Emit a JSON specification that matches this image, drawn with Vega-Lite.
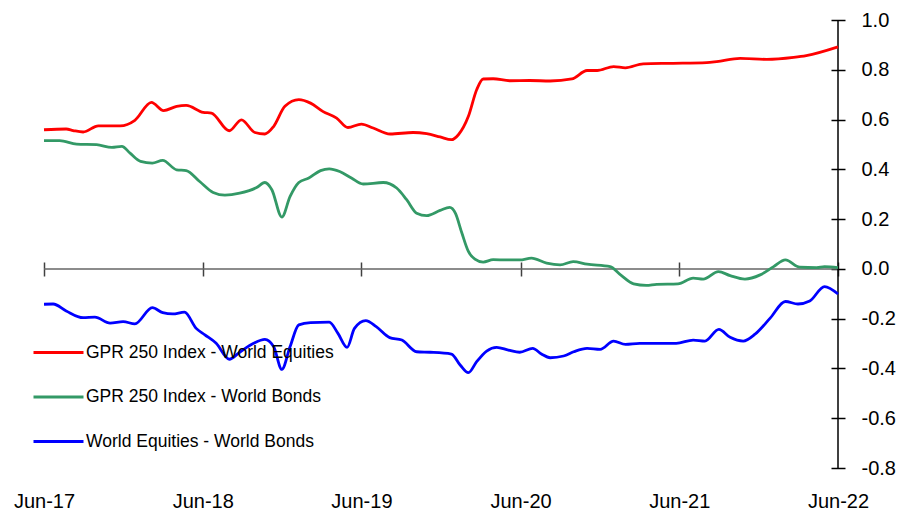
{
  "$schema": "https://vega.github.io/schema/vega-lite/v6.json",
  "autosize": "none",
  "width": 794,
  "height": 448,
  "padding": {"left": 44, "top": 20, "right": 66, "bottom": 44},
  "background": "white",
  "config": {"view": {"stroke": null}},
  "layer": [
    {
      "data": {"values": [{}]},
      "mark": {"type": "rule", "color": "#666666", "strokeWidth": 1.5},
      "encoding": {
        "x": {"datum": {"year": 2017, "month": 6, "date": 1, "utc": true}, "type": "temporal"},
        "x2": {"datum": {"year": 2022, "month": 6, "date": 1, "utc": true}},
        "y": {"datum": 0, "type": "quantitative"}
      }
    },
    {
      "data": {"values": [{}]},
      "mark": {"type": "rule", "color": "#000000", "strokeWidth": 1.5},
      "encoding": {
        "x": {"datum": {"year": 2022, "month": 6, "date": 1, "utc": true}, "type": "temporal"},
        "y": {"datum": -0.8, "type": "quantitative"},
        "y2": {"datum": 1.0}
      }
    },
    {
      "data": {"values": [
        {"date": "2017-06-01", "series": "GPR 250 Index - World Equities", "value": 0.559},
        {"date": "2017-07-22", "series": "GPR 250 Index - World Equities", "value": 0.562},
        {"date": "2017-08-07", "series": "GPR 250 Index - World Equities", "value": 0.556},
        {"date": "2017-08-30", "series": "GPR 250 Index - World Equities", "value": 0.55},
        {"date": "2017-10-04", "series": "GPR 250 Index - World Equities", "value": 0.575},
        {"date": "2017-11-23", "series": "GPR 250 Index - World Equities", "value": 0.575},
        {"date": "2017-12-27", "series": "GPR 250 Index - World Equities", "value": 0.597},
        {"date": "2018-02-03", "series": "GPR 250 Index - World Equities", "value": 0.669},
        {"date": "2018-03-03", "series": "GPR 250 Index - World Equities", "value": 0.636},
        {"date": "2018-04-02", "series": "GPR 250 Index - World Equities", "value": 0.653},
        {"date": "2018-04-24", "series": "GPR 250 Index - World Equities", "value": 0.657},
        {"date": "2018-06-02", "series": "GPR 250 Index - World Equities", "value": 0.629},
        {"date": "2018-06-21", "series": "GPR 250 Index - World Equities", "value": 0.626},
        {"date": "2018-08-01", "series": "GPR 250 Index - World Equities", "value": 0.555},
        {"date": "2018-08-29", "series": "GPR 250 Index - World Equities", "value": 0.599},
        {"date": "2018-09-29", "series": "GPR 250 Index - World Equities", "value": 0.548},
        {"date": "2018-10-22", "series": "GPR 250 Index - World Equities", "value": 0.542},
        {"date": "2018-11-11", "series": "GPR 250 Index - World Equities", "value": 0.572},
        {"date": "2018-12-07", "series": "GPR 250 Index - World Equities", "value": 0.653},
        {"date": "2019-01-08", "series": "GPR 250 Index - World Equities", "value": 0.68},
        {"date": "2019-02-04", "series": "GPR 250 Index - World Equities", "value": 0.666},
        {"date": "2019-03-04", "series": "GPR 250 Index - World Equities", "value": 0.633},
        {"date": "2019-04-05", "series": "GPR 250 Index - World Equities", "value": 0.606},
        {"date": "2019-05-01", "series": "GPR 250 Index - World Equities", "value": 0.568},
        {"date": "2019-06-01", "series": "GPR 250 Index - World Equities", "value": 0.582},
        {"date": "2019-06-28", "series": "GPR 250 Index - World Equities", "value": 0.566},
        {"date": "2019-08-06", "series": "GPR 250 Index - World Equities", "value": 0.542},
        {"date": "2019-09-28", "series": "GPR 250 Index - World Equities", "value": 0.548},
        {"date": "2019-10-29", "series": "GPR 250 Index - World Equities", "value": 0.543},
        {"date": "2019-11-29", "series": "GPR 250 Index - World Equities", "value": 0.53},
        {"date": "2019-12-25", "series": "GPR 250 Index - World Equities", "value": 0.519},
        {"date": "2020-01-10", "series": "GPR 250 Index - World Equities", "value": 0.539},
        {"date": "2020-02-02", "series": "GPR 250 Index - World Equities", "value": 0.613},
        {"date": "2020-02-21", "series": "GPR 250 Index - World Equities", "value": 0.72},
        {"date": "2020-03-07", "series": "GPR 250 Index - World Equities", "value": 0.763},
        {"date": "2020-03-30", "series": "GPR 250 Index - World Equities", "value": 0.764},
        {"date": "2020-05-07", "series": "GPR 250 Index - World Equities", "value": 0.756},
        {"date": "2020-06-22", "series": "GPR 250 Index - World Equities", "value": 0.757},
        {"date": "2020-08-08", "series": "GPR 250 Index - World Equities", "value": 0.755},
        {"date": "2020-09-27", "series": "GPR 250 Index - World Equities", "value": 0.763},
        {"date": "2020-11-01", "series": "GPR 250 Index - World Equities", "value": 0.797},
        {"date": "2020-11-24", "series": "GPR 250 Index - World Equities", "value": 0.797},
        {"date": "2021-01-01", "series": "GPR 250 Index - World Equities", "value": 0.813},
        {"date": "2021-01-28", "series": "GPR 250 Index - World Equities", "value": 0.808},
        {"date": "2021-03-10", "series": "GPR 250 Index - World Equities", "value": 0.824},
        {"date": "2021-05-18", "series": "GPR 250 Index - World Equities", "value": 0.826},
        {"date": "2021-08-03", "series": "GPR 250 Index - World Equities", "value": 0.829},
        {"date": "2021-08-26", "series": "GPR 250 Index - World Equities", "value": 0.833},
        {"date": "2021-10-19", "series": "GPR 250 Index - World Equities", "value": 0.846},
        {"date": "2021-12-19", "series": "GPR 250 Index - World Equities", "value": 0.842},
        {"date": "2022-02-19", "series": "GPR 250 Index - World Equities", "value": 0.85},
        {"date": "2022-03-20", "series": "GPR 250 Index - World Equities", "value": 0.857},
        {"date": "2022-06-01", "series": "GPR 250 Index - World Equities", "value": 0.892},

        {"date": "2017-06-01", "series": "GPR 250 Index - World Bonds", "value": 0.515},
        {"date": "2017-07-07", "series": "GPR 250 Index - World Bonds", "value": 0.515},
        {"date": "2017-08-15", "series": "GPR 250 Index - World Bonds", "value": 0.501},
        {"date": "2017-09-30", "series": "GPR 250 Index - World Bonds", "value": 0.499},
        {"date": "2017-11-04", "series": "GPR 250 Index - World Bonds", "value": 0.488},
        {"date": "2017-11-27", "series": "GPR 250 Index - World Bonds", "value": 0.492},
        {"date": "2017-12-16", "series": "GPR 250 Index - World Bonds", "value": 0.465},
        {"date": "2018-01-09", "series": "GPR 250 Index - World Bonds", "value": 0.432},
        {"date": "2018-02-05", "series": "GPR 250 Index - World Bonds", "value": 0.425},
        {"date": "2018-03-01", "series": "GPR 250 Index - World Bonds", "value": 0.436},
        {"date": "2018-04-02", "series": "GPR 250 Index - World Bonds", "value": 0.398},
        {"date": "2018-04-24", "series": "GPR 250 Index - World Bonds", "value": 0.395},
        {"date": "2018-05-25", "series": "GPR 250 Index - World Bonds", "value": 0.351},
        {"date": "2018-06-25", "series": "GPR 250 Index - World Bonds", "value": 0.307},
        {"date": "2018-07-22", "series": "GPR 250 Index - World Bonds", "value": 0.296},
        {"date": "2018-08-25", "series": "GPR 250 Index - World Bonds", "value": 0.304},
        {"date": "2018-10-03", "series": "GPR 250 Index - World Bonds", "value": 0.327},
        {"date": "2018-10-22", "series": "GPR 250 Index - World Bonds", "value": 0.347},
        {"date": "2018-11-07", "series": "GPR 250 Index - World Bonds", "value": 0.318},
        {"date": "2018-11-30", "series": "GPR 250 Index - World Bonds", "value": 0.208},
        {"date": "2018-12-19", "series": "GPR 250 Index - World Bonds", "value": 0.291},
        {"date": "2019-01-08", "series": "GPR 250 Index - World Bonds", "value": 0.347},
        {"date": "2019-01-31", "series": "GPR 250 Index - World Bonds", "value": 0.365},
        {"date": "2019-02-27", "series": "GPR 250 Index - World Bonds", "value": 0.395},
        {"date": "2019-03-19", "series": "GPR 250 Index - World Bonds", "value": 0.402},
        {"date": "2019-04-12", "series": "GPR 250 Index - World Bonds", "value": 0.391},
        {"date": "2019-05-09", "series": "GPR 250 Index - World Bonds", "value": 0.365},
        {"date": "2019-06-05", "series": "GPR 250 Index - World Bonds", "value": 0.341},
        {"date": "2019-07-21", "series": "GPR 250 Index - World Bonds", "value": 0.347},
        {"date": "2019-08-21", "series": "GPR 250 Index - World Bonds", "value": 0.325},
        {"date": "2019-09-13", "series": "GPR 250 Index - World Bonds", "value": 0.278},
        {"date": "2019-10-06", "series": "GPR 250 Index - World Bonds", "value": 0.224},
        {"date": "2019-10-29", "series": "GPR 250 Index - World Bonds", "value": 0.214},
        {"date": "2019-11-29", "series": "GPR 250 Index - World Bonds", "value": 0.235},
        {"date": "2019-12-21", "series": "GPR 250 Index - World Bonds", "value": 0.247},
        {"date": "2020-01-03", "series": "GPR 250 Index - World Bonds", "value": 0.224},
        {"date": "2020-01-18", "series": "GPR 250 Index - World Bonds", "value": 0.144},
        {"date": "2020-02-02", "series": "GPR 250 Index - World Bonds", "value": 0.07},
        {"date": "2020-02-17", "series": "GPR 250 Index - World Bonds", "value": 0.039},
        {"date": "2020-03-07", "series": "GPR 250 Index - World Bonds", "value": 0.027},
        {"date": "2020-03-30", "series": "GPR 250 Index - World Bonds", "value": 0.037},
        {"date": "2020-04-30", "series": "GPR 250 Index - World Bonds", "value": 0.036},
        {"date": "2020-05-30", "series": "GPR 250 Index - World Bonds", "value": 0.036},
        {"date": "2020-06-26", "series": "GPR 250 Index - World Bonds", "value": 0.043},
        {"date": "2020-07-31", "series": "GPR 250 Index - World Bonds", "value": 0.023},
        {"date": "2020-08-31", "series": "GPR 250 Index - World Bonds", "value": 0.016},
        {"date": "2020-09-30", "series": "GPR 250 Index - World Bonds", "value": 0.029},
        {"date": "2020-11-01", "series": "GPR 250 Index - World Bonds", "value": 0.019},
        {"date": "2020-12-24", "series": "GPR 250 Index - World Bonds", "value": 0.009},
        {"date": "2021-01-17", "series": "GPR 250 Index - World Bonds", "value": -0.024},
        {"date": "2021-02-16", "series": "GPR 250 Index - World Bonds", "value": -0.06},
        {"date": "2021-03-17", "series": "GPR 250 Index - World Bonds", "value": -0.066},
        {"date": "2021-04-10", "series": "GPR 250 Index - World Bonds", "value": -0.062},
        {"date": "2021-05-29", "series": "GPR 250 Index - World Bonds", "value": -0.06},
        {"date": "2021-07-03", "series": "GPR 250 Index - World Bonds", "value": -0.037},
        {"date": "2021-07-26", "series": "GPR 250 Index - World Bonds", "value": -0.041},
        {"date": "2021-08-30", "series": "GPR 250 Index - World Bonds", "value": -0.011},
        {"date": "2021-09-26", "series": "GPR 250 Index - World Bonds", "value": -0.027},
        {"date": "2021-10-30", "series": "GPR 250 Index - World Bonds", "value": -0.041},
        {"date": "2021-12-04", "series": "GPR 250 Index - World Bonds", "value": -0.024},
        {"date": "2022-01-04", "series": "GPR 250 Index - World Bonds", "value": 0.009},
        {"date": "2022-01-31", "series": "GPR 250 Index - World Bonds", "value": 0.036},
        {"date": "2022-03-05", "series": "GPR 250 Index - World Bonds", "value": 0.007},
        {"date": "2022-04-13", "series": "GPR 250 Index - World Bonds", "value": 0.005},
        {"date": "2022-05-01", "series": "GPR 250 Index - World Bonds", "value": 0.009},
        {"date": "2022-06-01", "series": "GPR 250 Index - World Bonds", "value": 0.005},

        {"date": "2017-06-01", "series": "World Equities - World Bonds", "value": -0.142},
        {"date": "2017-06-22", "series": "World Equities - World Bonds", "value": -0.141},
        {"date": "2017-07-22", "series": "World Equities - World Bonds", "value": -0.169},
        {"date": "2017-08-30", "series": "World Equities - World Bonds", "value": -0.196},
        {"date": "2017-09-26", "series": "World Equities - World Bonds", "value": -0.194},
        {"date": "2017-10-31", "series": "World Equities - World Bonds", "value": -0.218},
        {"date": "2017-11-30", "series": "World Equities - World Bonds", "value": -0.212},
        {"date": "2017-12-27", "series": "World Equities - World Bonds", "value": -0.221},
        {"date": "2018-02-05", "series": "World Equities - World Bonds", "value": -0.156},
        {"date": "2018-03-01", "series": "World Equities - World Bonds", "value": -0.176},
        {"date": "2018-03-24", "series": "World Equities - World Bonds", "value": -0.181},
        {"date": "2018-04-20", "series": "World Equities - World Bonds", "value": -0.174},
        {"date": "2018-05-17", "series": "World Equities - World Bonds", "value": -0.239},
        {"date": "2018-06-06", "series": "World Equities - World Bonds", "value": -0.265},
        {"date": "2018-07-02", "series": "World Equities - World Bonds", "value": -0.299},
        {"date": "2018-08-01", "series": "World Equities - World Bonds", "value": -0.363},
        {"date": "2018-08-25", "series": "World Equities - World Bonds", "value": -0.335},
        {"date": "2018-09-25", "series": "World Equities - World Bonds", "value": -0.3},
        {"date": "2018-10-22", "series": "World Equities - World Bonds", "value": -0.283},
        {"date": "2018-11-11", "series": "World Equities - World Bonds", "value": -0.312},
        {"date": "2018-11-30", "series": "World Equities - World Bonds", "value": -0.404},
        {"date": "2018-12-19", "series": "World Equities - World Bonds", "value": -0.312},
        {"date": "2019-01-08", "series": "World Equities - World Bonds", "value": -0.225},
        {"date": "2019-02-04", "series": "World Equities - World Bonds", "value": -0.216},
        {"date": "2019-03-19", "series": "World Equities - World Bonds", "value": -0.214},
        {"date": "2019-04-08", "series": "World Equities - World Bonds", "value": -0.259},
        {"date": "2019-04-29", "series": "World Equities - World Bonds", "value": -0.315},
        {"date": "2019-05-16", "series": "World Equities - World Bonds", "value": -0.239},
        {"date": "2019-06-11", "series": "World Equities - World Bonds", "value": -0.208},
        {"date": "2019-07-05", "series": "World Equities - World Bonds", "value": -0.232},
        {"date": "2019-08-05", "series": "World Equities - World Bonds", "value": -0.276},
        {"date": "2019-09-02", "series": "World Equities - World Bonds", "value": -0.286},
        {"date": "2019-10-06", "series": "World Equities - World Bonds", "value": -0.333},
        {"date": "2019-11-06", "series": "World Equities - World Bonds", "value": -0.335},
        {"date": "2019-12-25", "series": "World Equities - World Bonds", "value": -0.342},
        {"date": "2020-01-14", "series": "World Equities - World Bonds", "value": -0.386},
        {"date": "2020-02-02", "series": "World Equities - World Bonds", "value": -0.417},
        {"date": "2020-02-21", "series": "World Equities - World Bonds", "value": -0.373},
        {"date": "2020-03-15", "series": "World Equities - World Bonds", "value": -0.33},
        {"date": "2020-04-07", "series": "World Equities - World Bonds", "value": -0.315},
        {"date": "2020-05-04", "series": "World Equities - World Bonds", "value": -0.326},
        {"date": "2020-05-30", "series": "World Equities - World Bonds", "value": -0.335},
        {"date": "2020-06-29", "series": "World Equities - World Bonds", "value": -0.319},
        {"date": "2020-07-19", "series": "World Equities - World Bonds", "value": -0.342},
        {"date": "2020-08-08", "series": "World Equities - World Bonds", "value": -0.357},
        {"date": "2020-09-08", "series": "World Equities - World Bonds", "value": -0.35},
        {"date": "2020-10-01", "series": "World Equities - World Bonds", "value": -0.333},
        {"date": "2020-11-01", "series": "World Equities - World Bonds", "value": -0.319},
        {"date": "2020-12-01", "series": "World Equities - World Bonds", "value": -0.323},
        {"date": "2021-01-01", "series": "World Equities - World Bonds", "value": -0.29},
        {"date": "2021-01-28", "series": "World Equities - World Bonds", "value": -0.303},
        {"date": "2021-03-02", "series": "World Equities - World Bonds", "value": -0.299},
        {"date": "2021-05-25", "series": "World Equities - World Bonds", "value": -0.299},
        {"date": "2021-07-03", "series": "World Equities - World Bonds", "value": -0.286},
        {"date": "2021-07-30", "series": "World Equities - World Bonds", "value": -0.29},
        {"date": "2021-08-31", "series": "World Equities - World Bonds", "value": -0.243},
        {"date": "2021-09-26", "series": "World Equities - World Bonds", "value": -0.275},
        {"date": "2021-10-26", "series": "World Equities - World Bonds", "value": -0.29},
        {"date": "2021-11-23", "series": "World Equities - World Bonds", "value": -0.261},
        {"date": "2021-12-27", "series": "World Equities - World Bonds", "value": -0.198},
        {"date": "2022-01-31", "series": "World Equities - World Bonds", "value": -0.131},
        {"date": "2022-03-01", "series": "World Equities - World Bonds", "value": -0.141},
        {"date": "2022-03-28", "series": "World Equities - World Bonds", "value": -0.129},
        {"date": "2022-05-01", "series": "World Equities - World Bonds", "value": -0.071},
        {"date": "2022-06-01", "series": "World Equities - World Bonds", "value": -0.101}
      ]},
      "mark": {"type": "line", "interpolate": "monotone", "strokeWidth": 2.8},
      "encoding": {
        "x": {
          "field": "date", "type": "temporal",
          "scale": {"type": "utc", "domain": [{"year": 2017, "month": 6, "date": 1, "utc": true}, {"year": 2022, "month": 6, "date": 1, "utc": true}], "nice": false},
          "axis": {
            "title": null, "domain": false, "grid": false,
            "values": [
              {"year": 2017, "month": 6, "date": 1, "utc": true},
              {"year": 2018, "month": 6, "date": 1, "utc": true},
              {"year": 2019, "month": 6, "date": 1, "utc": true},
              {"year": 2020, "month": 6, "date": 1, "utc": true},
              {"year": 2021, "month": 6, "date": 1, "utc": true},
              {"year": 2022, "month": 6, "date": 1, "utc": true}
            ],
            "format": "%b-%y",
            "offset": -206, "ticks": true, "tickSize": 14, "tickColor": "#404040", "tickWidth": 1.5,
            "labelPadding": 231, "labelBaseline": "alphabetic", "labelAlign": "center",
            "labelFont": "Liberation Sans, Arial, sans-serif", "labelFontSize": 20, "labelColor": "#000000",
            "labelOverlap": false, "labelFlush": false, "labelBound": false
          }
        },
        "y": {
          "field": "value", "type": "quantitative",
          "scale": {"domain": [-0.8, 1.0], "nice": false, "zero": false},
          "axis": {
            "orient": "right", "title": null, "domain": false, "grid": false,
            "values": [-0.8, -0.6, -0.4, -0.2, 0, 0.2, 0.4, 0.6, 0.8, 1.0],
            "labelExpr": "replace(format(datum.value, '.1f'), '\u2212', '-')",
            "offset": -7, "tickSize": 14, "tickColor": "#000000", "tickWidth": 1.5,
            "labelPadding": 16, "labelAlign": "left", "labelBaseline": "middle",
            "labelFont": "Liberation Sans, Arial, sans-serif", "labelFontSize": 20, "labelColor": "#000000",
            "labelOverlap": false, "labelFlush": false, "labelBound": false
          }
        },
        "color": {
          "field": "series", "type": "nominal",
          "scale": {
            "domain": ["GPR 250 Index - World Equities", "GPR 250 Index - World Bonds", "World Equities - World Bonds"],
            "range": ["#FF0000", "#339966", "#0000FF"]
          },
          "legend": {
            "orient": "none", "legendX": -12, "legendY": 306, "title": null, "padding": 0,
            "symbolType": "stroke", "symbolSize": 2500, "symbolStrokeWidth": 3,
            "labelFont": "Liberation Sans, Arial, sans-serif", "labelFontSize": 17.5, "labelColor": "#000000",
            "labelOffset": 1, "rowPadding": 9.5, "labelLimit": 500
          }
        }
      }
    }
  ]
}
